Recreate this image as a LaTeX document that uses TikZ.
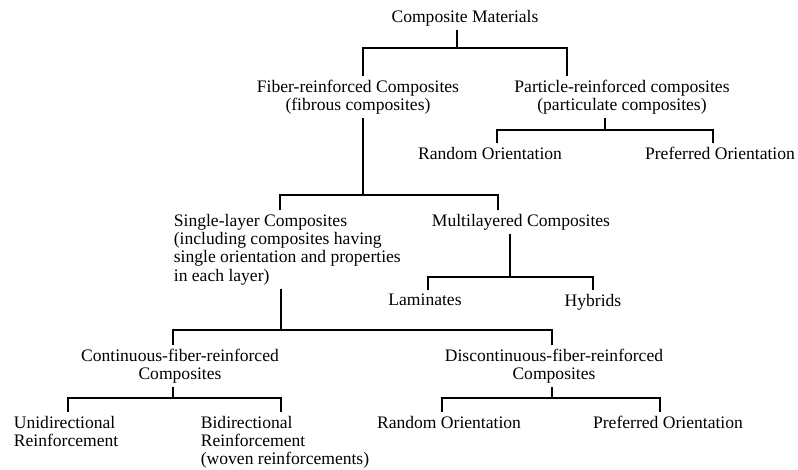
\documentclass[tikz,border=0pt]{standalone}
\usepackage{fontspec}
\setmainfont{Liberation Serif}
\usetikzlibrary{positioning}

\begin{document}
\begin{tikzpicture}[x=0.02cm, y=-0.02cm,
    item/.style={inner sep=2pt, align=center, anchor=north, font=\fontsize{10}{10.5}\selectfont},
    litem/.style={item, align=left, anchor=north west},
    link/.style={line width=1pt}]
    \useasboundingbox (0,0) rectangle (798,470);

    % Top level
    \node[item] (cm) at (465,6) {Composite Materials};
    \node[item] (fiber) at (358,76) {Fiber-reinforced Composites\\(fibrous composites)};
    \node[item] (part) at (622,76) {Particle-reinforced composites\\(particulate composites)};

    % Particle branch
    \node[item] (prand) at (490,143) {Random Orientation};
    \node[item] (ppref) at (720,143) {Preferred Orientation};

    % Fiber branch
    \node[litem] (single) at (170,210) {Single-layer Composites\\(including composites having\\single orientation and properties\\in each layer)};
    \node[item] (multi) at (521,210) {Multilayered Composites};
    \node[item] (lam) at (425,290) {Laminates};
    \node[item] (hyb) at (593,290) {Hybrids};

    % Single-layer branch
    \node[item] (cont) at (180,345) {Continuous-fiber-reinforced\\Composites};
    \node[item] (disc) at (554,345) {Discontinuous-fiber-reinforced\\Composites};
    \node[litem] (uni) at (10,412) {Unidirectional\\Reinforcement};
    \node[litem] (bi) at (197,412) {Bidirectional\\Reinforcement\\(woven reinforcements)};
    \node[item] (drand) at (449,412) {Random Orientation};
    \node[item] (dpref) at (668,412) {Preferred Orientation};

    % Stems and junctions
    \coordinate (cmS) at ([xshift=-0.16cm]cm.south);
    \coordinate (cmJ) at (cmS |- 0,48);
    \coordinate (partS) at ([xshift=-0.34cm]part.south);
    \coordinate (partJ) at (partS |- 0,130);
    \coordinate (fiberS) at ([xshift=0.1cm]fiber.south);
    \coordinate (fiberJ) at (fiberS |- 0,195);
    \coordinate (multiS) at ([xshift=-0.22cm]multi.south);
    \coordinate (multiJ) at (multiS |- 0,277);
    \coordinate (singleS) at ([xshift=-0.12cm]single.south);
    \coordinate (singleJ) at (singleS |- 0,330);
    \coordinate (contS) at ([xshift=-0.14cm]cont.south);
    \coordinate (contJ) at (contS |- 0,398);
    \coordinate (discS) at ([xshift=-0.04cm]disc.south);
    \coordinate (discJ) at (discS |- 0,398);

    % Connectors
    \draw[link] (cmS) -- (cmJ);
    \draw[link] ([xshift=0.1cm]fiber.north) |- (cmJ) -| ([xshift=-1.1cm]part.north);
    \draw[link] (partS) -- (partJ);
    \draw[link] ([xshift=0.14cm]prand.north) |- (partJ) -| ([xshift=-0.14cm]ppref.north);
    \draw[link] (fiberS) -- (fiberJ);
    \draw[link] ([xshift=-0.14cm]single.north) |- (fiberJ) -| ([xshift=-0.46cm]multi.north);
    \draw[link] (multiS) -- (multiJ);
    \draw[link] ([xshift=0.06cm]lam.north) |- (multiJ) -| (hyb.north);
    \draw[link] (singleS) -- (singleJ);
    \draw[link] ([xshift=-0.14cm]cont.north) |- (singleJ) -| ([xshift=-0.04cm]disc.north);
    \draw[link] (contS) -- (contJ);
    \draw[link] ([xshift=0.04cm]uni.north) |- (contJ) -| ([xshift=-0.08cm]bi.north);
    \draw[link] (discS) -- (discJ);
    \draw[link] ([xshift=-0.14cm]drand.north) |- (discJ) -| ([xshift=-0.16cm]dpref.north);
\end{tikzpicture}
\end{document}
